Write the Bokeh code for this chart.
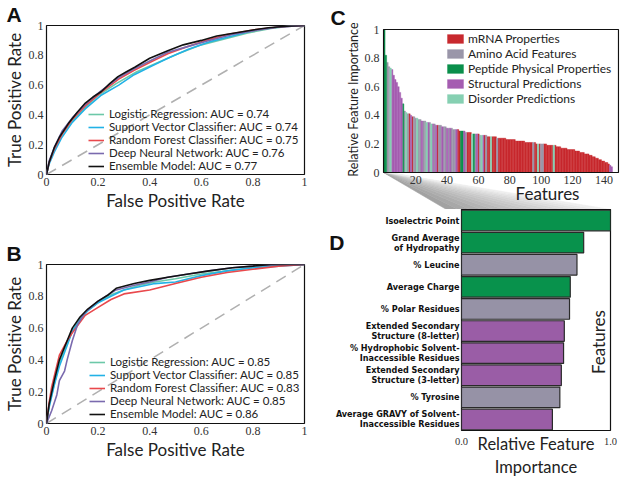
from bokeh.plotting import figure
from bokeh.layouts import row, column
from bokeh.models import (Range1d, FactorRange, FixedTicker, Legend, LegendItem, Label, Title,
                          CategoricalAxis, ColumnDataSource, CDSView, GroupFilter)
from bokeh.core.properties import value
from bokeh.embed import file_html
from bokeh.resources import INLINE

# ------------------------------------------------------------------ data
ROC_TICKS = [0, 0.2, 0.4, 0.6, 0.8, 1]
ROC_TICK_LABELS = ["0", "0.2", "0.4", "0.6", "0.8", "1"]
MODELS = ["Logistic Regression", "Support Vector Classifier", "Random Forest Classifier",
          "Deep Neural Network", "Ensemble Model"]
MODEL_COLORS = ["#6cc8a8", "#22b2e6", "#e9484c", "#7a6aae", "#111111"]
AUC_A = [0.74, 0.74, 0.75, 0.76, 0.77]
AUC_B = [0.85, 0.85, 0.83, 0.85, 0.86]

# panel A ROC curves
LR_A_FPR = [0, 0.01, 0.03, 0.06, 0.1, 0.15, 0.2, 0.27, 0.35, 0.43, 0.51, 0.6, 0.69, 0.78, 0.87, 0.94, 1]
LR_A_TPR = [0, 0.08, 0.17, 0.27, 0.36, 0.45, 0.53, 0.61, 0.69, 0.75, 0.81, 0.87, 0.91, 0.95, 0.98, 0.995, 1]
SVC_A_FPR = [0, 0.01, 0.03, 0.06, 0.1, 0.15, 0.21, 0.28, 0.34, 0.41, 0.47, 0.55, 0.63, 0.72, 0.81, 0.9, 1]
SVC_A_TPR = [0, 0.07, 0.15, 0.25, 0.35, 0.44, 0.53, 0.6, 0.67, 0.73, 0.78, 0.84, 0.89, 0.93, 0.97, 0.99, 1]
RF_A_FPR = [0, 0.01, 0.03, 0.06, 0.1, 0.15, 0.21, 0.28, 0.34, 0.41, 0.47, 0.55, 0.6, 0.7, 0.8, 0.9, 1]
RF_A_TPR = [0, 0.08, 0.17, 0.27, 0.37, 0.46, 0.55, 0.64, 0.7, 0.76, 0.81, 0.86, 0.89, 0.94, 0.97, 0.99, 1]
DNN_A_FPR = [0, 0.01, 0.03, 0.06, 0.1, 0.15, 0.21, 0.28, 0.34, 0.41, 0.47, 0.55, 0.63, 0.72, 0.82, 0.9, 1]
DNN_A_TPR = [0, 0.09, 0.18, 0.29, 0.38, 0.47, 0.56, 0.65, 0.71, 0.77, 0.82, 0.86, 0.9, 0.94, 0.97, 0.99, 1]
ENS_A_FPR = [0, 0.01, 0.03, 0.05, 0.084, 0.12, 0.148, 0.18, 0.213, 0.245, 0.277, 0.31, 0.342,
             0.4, 0.47, 0.53, 0.6, 0.66, 0.73, 0.8, 0.86, 0.93, 1]
ENS_A_TPR = [0, 0.08, 0.18, 0.25, 0.34, 0.42, 0.475, 0.52, 0.557, 0.61, 0.657, 0.69, 0.72,
             0.78, 0.83, 0.87, 0.9, 0.93, 0.95, 0.97, 0.985, 0.995, 1]

# panel B ROC curves
LR_B_FPR = [0, 0.01, 0.03, 0.05, 0.08, 0.1, 0.13, 0.16, 0.2, 0.25, 0.3, 0.36, 0.42, 0.5, 0.6, 0.7, 0.8, 0.9, 1]
LR_B_TPR = [0, 0.11, 0.25, 0.38, 0.5, 0.58, 0.66, 0.71, 0.76, 0.81, 0.84, 0.87, 0.89, 0.91, 0.94, 0.96, 0.98, 0.995, 1]
SVC_B_FPR = [0, 0.01, 0.03, 0.05, 0.08, 0.1, 0.13, 0.16, 0.2, 0.25, 0.3, 0.36, 0.42, 0.5, 0.6, 0.7, 0.8, 0.9, 1]
SVC_B_TPR = [0, 0.1, 0.24, 0.36, 0.49, 0.58, 0.65, 0.71, 0.76, 0.8, 0.84, 0.86, 0.88, 0.89, 0.93, 0.96, 0.98, 0.99, 1]
RF_B_FPR = [0, 0.01, 0.02, 0.05, 0.08, 0.1, 0.15, 0.2, 0.25, 0.3, 0.4, 0.5, 0.6, 0.7, 0.8, 0.9, 1]
RF_B_TPR = [0, 0.13, 0.23, 0.43, 0.52, 0.57, 0.68, 0.73, 0.78, 0.815, 0.84, 0.88, 0.92, 0.95, 0.97, 0.99, 1]
DNN_B_FPR = [0, 0.02, 0.04, 0.05, 0.07, 0.08, 0.1, 0.12, 0.15, 0.2, 0.27, 0.34, 0.4, 0.47, 0.55, 0.63, 0.72, 0.8, 0.9, 1]
DNN_B_TPR = [0, 0.08, 0.18, 0.27, 0.33, 0.4, 0.52, 0.62, 0.7, 0.77, 0.84, 0.87, 0.89, 0.92, 0.94, 0.96, 0.98, 0.99, 1, 1]
ENS_B_FPR = [0, 0.01, 0.03, 0.05, 0.08, 0.1, 0.13, 0.16, 0.2, 0.24, 0.27, 0.34, 0.4, 0.47, 0.55, 0.63, 0.72, 0.8, 0.87, 1]
ENS_B_TPR = [0, 0.12, 0.27, 0.4, 0.52, 0.6, 0.67, 0.72, 0.77, 0.81, 0.85, 0.88, 0.9, 0.92, 0.94, 0.96, 0.98, 0.99, 1, 1]

# panel C: all features, ranked
FEAT_IMPORTANCE = [
    1.00, 0.82, 0.77, 0.74, 0.73, 0.72, 0.68, 0.65, 0.63, 0.60,
    0.56, 0.52, 0.48, 0.43, 0.42, 0.41, 0.41, 0.40, 0.39, 0.39,
    0.38, 0.38, 0.37, 0.37, 0.36, 0.36, 0.36, 0.35, 0.35, 0.35,
    0.34, 0.34, 0.34, 0.33, 0.33, 0.33, 0.33, 0.32, 0.32, 0.32,
    0.31, 0.31, 0.31, 0.31, 0.30, 0.30, 0.30, 0.30, 0.29, 0.29,
    0.29, 0.29, 0.28, 0.28, 0.28, 0.28, 0.27, 0.27, 0.27, 0.27,
    0.27, 0.26, 0.26, 0.26, 0.26, 0.26, 0.25, 0.25, 0.25, 0.25,
    0.25, 0.25, 0.24, 0.24, 0.24, 0.24, 0.24, 0.24, 0.23, 0.23,
    0.23, 0.23, 0.23, 0.23, 0.22, 0.22, 0.22, 0.22, 0.22, 0.22,
    0.21, 0.21, 0.21, 0.21, 0.21, 0.21, 0.21, 0.20, 0.20, 0.20,
    0.20, 0.20, 0.20, 0.20, 0.19, 0.19, 0.19, 0.19, 0.19, 0.19,
    0.18, 0.18, 0.18, 0.17, 0.17, 0.17, 0.17, 0.16, 0.16, 0.16,
    0.16, 0.16, 0.15, 0.15, 0.15, 0.14, 0.14, 0.14, 0.13, 0.13,
    0.13, 0.12, 0.12, 0.11, 0.11, 0.10, 0.10, 0.09, 0.09, 0.08,
    0.08, 0.07, 0.07, 0.06, 0.05, 0.04]
FEAT_CATEGORY = list(
    "PPAADSSSSS" "SSPADARSRA" "ADAASAADSA" "DSASRAASAA" "SASAAASRRP"
    "PSARRRDPAS" "RADSRARRDR" "RRARRRRRRR" "RRRRRRRRRR" "RRRRRARRDR"
    "AARRRRRRDR" "RRRRRRRRRR" "RRRRRRRRRR" "RRRRRRRRRR" "RRRRSS")
CAT_CODES = ["R", "A", "P", "S", "D"]
CAT_NAMES = ["mRNA Properties", "Amino Acid Features", "Peptide Physical Properties",
             "Structural Predictions", "Disorder Predictions"]
CAT_COLORS = ["#c8292e", "#9a96a9", "#0a8f4b", "#a55db1", "#86d0b2"]
C_XTICKS = [20, 40, 60, 80, 100, 120, 140]
C_YTICKS = [0, 0.2, 0.4, 0.6, 0.8, 1]
C_YTICK_LABELS = ["0", "0.2", "0.4", "0.6", "0.8", "1"]

# panel D: top ten features
TOP_FEATURES = ["Isoelectric Point", "Grand Average\nof Hydropathy", "% Leucine", "Average Charge",
                "% Polar Residues", "Extended Secondary\nStructure (8-letter)",
                "% Hydrophobic Solvent-\nInaccessible Residues", "Extended Secondary\nStructure (3-letter)",
                "% Tyrosine", "Average GRAVY of Solvent-\nInaccessible Residues"]
TOP_IMPORTANCE = [1.0, 0.82, 0.775, 0.73, 0.725, 0.69, 0.685, 0.67, 0.66, 0.61]
TOP_CATEGORY = ["P", "P", "A", "P", "A", "S", "S", "S", "A", "S"]
D_COLORS = {"P": "#08924c", "A": "#9692a6", "S": "#9a5da6"}

# ------------------------------------------------------------------ styling helpers
SANS = "Lato"
SERIF = "Liberation Serif"
LETTER_FONT = "Liberation Sans"
NARROW = "'Liberation Sans Narrow', 'DejaVu Sans Condensed', sans-serif"


def style_axis(ax, size="12px", standoff=3):
    ax.major_tick_line_color = None
    ax.minor_tick_line_color = None
    ax.major_tick_out = 0
    ax.major_tick_in = 0
    ax.minor_tick_out = 0
    ax.axis_line_color = None
    ax.major_label_text_font = SERIF
    ax.major_label_text_font_size = size
    ax.major_label_text_color = "#333333"
    ax.major_label_standoff = standoff


def letter_title(p, text, offset):
    p.title.text = text
    p.title.align = "left"
    p.title.offset = offset
    p.title.standoff = 0
    p.title.text_font = LETTER_FONT
    p.title.text_font_size = "21px"
    p.title.text_font_style = "bold"
    p.title.text_color = "#111111"


LEFT_W = 326


def roc_panel(curves, aucs, height, top, bottom, leg_loc):
    p = figure(width=LEFT_W, height=height, x_range=Range1d(0, 1), y_range=Range1d(0, 1),
               output_backend="svg", toolbar_location=None, frame_align=False,
               min_border_left=44, min_border_right=LEFT_W - 304, min_border_top=top, min_border_bottom=bottom,
               x_axis_label="False Positive Rate", y_axis_label="True Positive Rate")
    p.outline_line_color = "#111111"
    p.outline_line_width = 1.2
    p.grid.visible = False
    for ax in (p.xaxis[0], p.yaxis[0]):
        ax.ticker = FixedTicker(ticks=ROC_TICKS)
        ax.major_label_overrides = dict(zip(ROC_TICKS, ROC_TICK_LABELS))
        style_axis(ax)
        ax.axis_label_text_font = SANS
        ax.axis_label_text_font_size = "17px"
        ax.axis_label_text_font_style = "normal"
        ax.axis_label_text_color = "#222222"
        ax.axis_label_standoff = 1
    p.line([0, 1], [0, 1], line_color="#b0b0b0", line_dash="11 7", line_width=1.5)
    items = []
    for (fpr, tpr), name, color, auc in zip(curves, MODELS, MODEL_COLORS, aucs):
        r = p.line(fpr, tpr, line_color=color, line_width=1.6)
        items.append(LegendItem(label=f"{name}: AUC = {auc:.2f}", renderers=[r]))
    p.add_layout(Legend(items=items, location=leg_loc, padding=0, margin=0, spacing=0,
                        label_height=12, glyph_height=12, glyph_width=16, label_standoff=5,
                        label_text_font=SANS, label_text_font_size="11.5px", label_text_color="#222222",
                        background_fill_alpha=0, border_line_color=None))
    return p


# ---- panel A
pa = roc_panel([(LR_A_FPR, LR_A_TPR), (SVC_A_FPR, SVC_A_TPR), (RF_A_FPR, RF_A_TPR),
                (DNN_A_FPR, DNN_A_TPR), (ENS_A_FPR, ENS_A_TPR)], AUC_A,
               height=238, top=17, bottom=64, leg_loc=(42, 2))
letter_title(pa, "A", -40)

# ---- panel B
pb = roc_panel([(LR_B_FPR, LR_B_TPR), (SVC_B_FPR, SVC_B_TPR), (RF_B_FPR, RF_B_TPR),
                (DNN_B_FPR, DNN_B_TPR), (ENS_B_FPR, ENS_B_TPR)], AUC_B,
               height=241, top=26, bottom=56, leg_loc=(43, 3))
letter_title(pb, "B", -40)

# ---- panel C (frame extends below the bar box to hold tick labels and the zoom wedge)
RIGHT_W = 620 - LEFT_W
C_LEFT, C_TOP, C_RIGHT = 56, 28, 1
C_W, C_H = RIGHT_W - C_LEFT - C_RIGHT, 209 - C_TOP   # frame size
C_X0, C_X1 = -0.5, 149.3                              # bar box edges (data)
C_PPU_Y = 143.0                                       # pixels per importance unit
C_XPAD = (C_X1 - C_X0) / (C_W - 2)
C_XS, C_XE = C_X0 - C_XPAD, C_X1 + C_XPAD
C_YT = 1 + 1 / C_PPU_Y
C_YB = C_YT - C_H / C_PPU_Y
pc = figure(width=RIGHT_W, height=C_TOP + C_H, x_range=Range1d(C_XS, C_XE), y_range=Range1d(C_YB, C_YT),
            output_backend="svg", toolbar_location=None, frame_align=False,
            min_border_left=C_LEFT, min_border_right=C_RIGHT, min_border_top=C_TOP, min_border_bottom=0)
pc.outline_line_color = None
pc.grid.visible = False
pc.xaxis.visible = False
pc.yaxis.ticker = FixedTicker(ticks=C_YTICKS)
pc.yaxis.major_label_overrides = dict(zip(C_YTICKS, C_YTICK_LABELS))
style_axis(pc.yaxis[0], standoff=3)
letter_title(pc, "C", -52)
pc.add_layout(Title(text="Relative Feature Importance", align="right", offset=-6, standoff=2,
                    text_font=SANS, text_font_size="12.5px", text_font_style="normal",
                    text_color="#222222"), "left")

PAGE_C_LEFT, PAGE_C_TOP = LEFT_W + C_LEFT, C_TOP


def c_map(px, py):
    return (C_XS + (px - PAGE_C_LEFT) / C_W * (C_XE - C_XS),
            C_YT - (py - PAGE_C_TOP) / C_H * (C_YT - C_YB))


# ---- panel D geometry (needed for the zoom wedge)
D_LEFT, D_RIGHT_B, D_BOTTOM = 120, 10, 49
D_W = RIGHT_W - D_LEFT - D_RIGHT_B
D_H = 430 - (C_TOP + C_H)
PAGE_D_LEFT, PAGE_D_TOP = LEFT_W + D_LEFT, C_TOP + C_H
BOX_BOTTOM = PAGE_C_TOP + 1 + C_PPU_Y

# zoom wedge from the first bars of C to the frame of D (page pixel geometry)
W_TL, W_TR = (PAGE_C_LEFT + 1, BOX_BOTTOM), (PAGE_C_LEFT + 6, BOX_BOTTOM)
W_BL, W_BR = (PAGE_D_LEFT, PAGE_D_TOP), (PAGE_D_LEFT + D_W, PAGE_D_TOP)
N_SLICES = 14
wx, wy, wc = [], [], []
for i in range(N_SLICES):
    t0, t1 = i / N_SLICES, (i + 1) / N_SLICES
    pts = [(W_TL[0] + t0 * (W_TR[0] - W_TL[0]), W_TL[1]),
           (W_TL[0] + t1 * (W_TR[0] - W_TL[0]), W_TL[1]),
           (W_BL[0] + t1 * (W_BR[0] - W_BL[0]), W_BL[1]),
           (W_BL[0] + t0 * (W_BR[0] - W_BL[0]), W_BL[1])]
    dp = [c_map(px, py) for px, py in pts]
    wx.append([d[0] for d in dp])
    wy.append([d[1] for d in dp])
    g = int(160 + (242 - 160) * (i + 0.5) / N_SLICES)
    wc.append(f"#{g:02x}{g:02x}{g:02x}")
pc.patches(wx, wy, fill_color=wc, line_color=wc, line_width=0.6)

src = ColumnDataSource(dict(x=list(range(len(FEAT_IMPORTANCE))), top=FEAT_IMPORTANCE, cat=FEAT_CATEGORY))
c_items = []
for code, name, color in zip(CAT_CODES, CAT_NAMES, CAT_COLORS):
    r = pc.vbar(x="x", top="top", bottom=0, width=1, source=src,
                view=CDSView(filter=GroupFilter(column_name="cat", group=code)),
                fill_color=color, line_color=color, line_width=0.4)
    c_items.append(LegendItem(label=name, renderers=[r]))
# visible box of the bar chart
pc.quad(left=[C_X0], right=[C_X1], bottom=[0], top=[1], fill_color=None, line_color="#111111", line_width=1.2)
# x tick labels and axis title of C, placed under the box
_, tick_y = c_map(0, BOX_BOTTOM + 7)
pc.text(x=C_XTICKS, y=[tick_y] * len(C_XTICKS), text=[str(t) for t in C_XTICKS],
        text_font=value(SERIF), text_font_size="12px", text_color="#333333",
        text_align="center", text_baseline="middle")
fx, fy = c_map(547, 193)
pc.text(x=[fx], y=[fy], text=["Features"], text_font=value(SANS), text_font_size="17px",
        text_color="#222222", text_align="center", text_baseline="middle")
pc.add_layout(Legend(items=c_items, location=(63, 103), padding=0, margin=0, spacing=0,
                     label_height=14, glyph_height=11, glyph_width=20, label_standoff=3,
                     label_text_font=SANS, label_text_font_size="12px", label_text_color="#222222",
                     background_fill_alpha=0, border_line_color=None))

# ---- panel D
factors = list(reversed(TOP_FEATURES))
pd_ = figure(width=RIGHT_W, height=D_H + D_BOTTOM, x_range=Range1d(0, 1), y_range=FactorRange(factors=factors),
             output_backend="svg", toolbar_location=None, frame_align=False,
             min_border_left=D_LEFT, min_border_right=D_RIGHT_B, min_border_top=0, min_border_bottom=D_BOTTOM,
             x_axis_label="Relative Feature\nImportance")
pd_.outline_line_color = "#111111"
pd_.outline_line_width = 1.2
pd_.grid.visible = False
pd_.hbar(y=TOP_FEATURES, right=TOP_IMPORTANCE, left=0, height=0.93,
         fill_color=[D_COLORS[c] for c in TOP_CATEGORY], line_color="#2a2a2a", line_width=1.2)
pd_.xaxis.ticker = FixedTicker(ticks=[0, 1])
pd_.xaxis.major_label_overrides = {0: "0.0", 1: "1.0"}
style_axis(pd_.xaxis[0], size="10.5px", standoff=7)
pd_.xaxis.axis_label_text_font = SANS
pd_.xaxis.axis_label_text_font_size = "16.5px"
pd_.xaxis.axis_label_text_font_style = "normal"
pd_.xaxis.axis_label_text_color = "#222222"
pd_.xaxis.axis_label_text_line_height = 1.15
pd_.xaxis.axis_label_standoff = -14
style_axis(pd_.yaxis[0], size="9px", standoff=2)
pd_.yaxis.major_label_text_font = NARROW
pd_.yaxis.major_label_text_font_style = "bold"
pd_.yaxis.major_label_text_color = "#111111"
pd_.yaxis.major_label_text_line_height = 1.0
# the panel letter "D" sits beside the second row, in the free space left of its short name:
# a second categorical axis with a spacer factor, padded so that "D" lines up with row two
row_frac = (factors.index(TOP_FEATURES[1]) + 0.5) / len(factors)
pad = (1.5 - 2 * row_frac) / (row_frac - 1)
pd_.extra_y_ranges = {"letter": FactorRange(factors=["\u200b", "D"], factor_padding=pad)}
d_axis = CategoricalAxis(y_range_name="letter")
style_axis(d_axis, standoff=-12)
d_axis.major_label_text_font = LETTER_FONT
d_axis.major_label_text_font_size = "21px"
d_axis.major_label_text_font_style = "bold"
d_axis.major_label_text_color = "#111111"
pd_.add_layout(d_axis, "left")
# the "Features" caption inside the frame, along the right edge
pd_.add_layout(Label(x=0.92, y=4.0, text="Features", angle=90, angle_units="deg", text_font=SANS,
                     text_font_size="17px", text_align="center", text_baseline="middle",
                     text_color="#222222"))

layout = row(column(pa, pb), column(pc, pd_))
open("out.html", "w").write(file_html(layout, INLINE))
